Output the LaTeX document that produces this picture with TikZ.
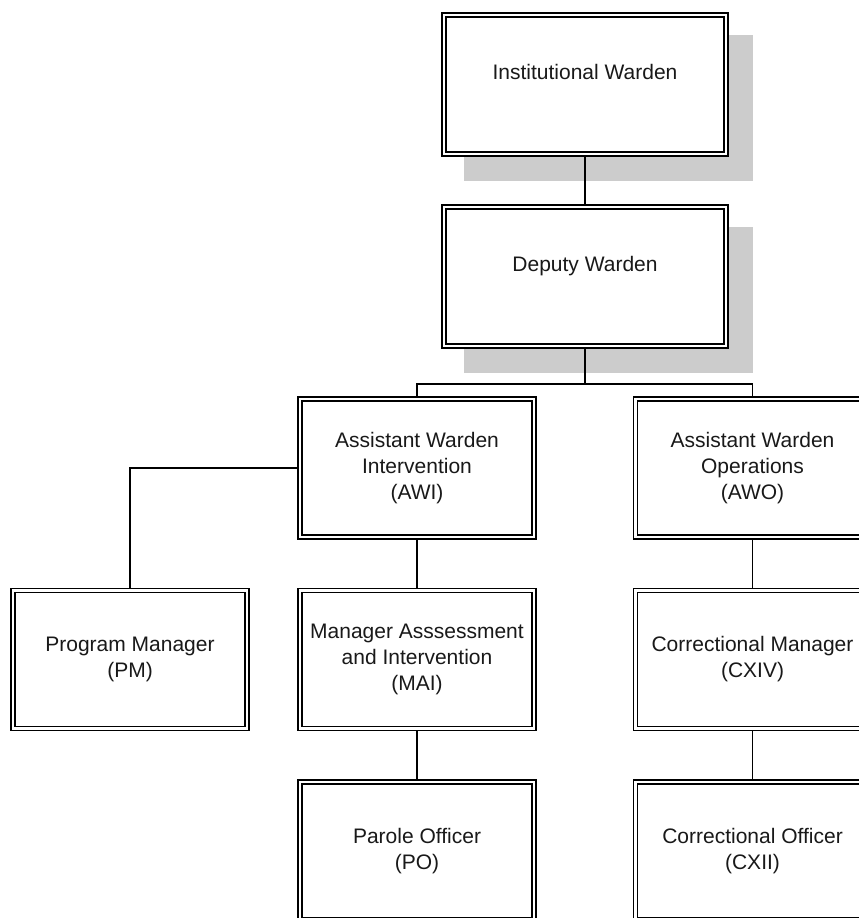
\documentclass[tikz,border=0pt]{standalone}
\usepackage{fontspec}
\setmainfont{Liberation Sans}
\usetikzlibrary{calc,backgrounds}
\begin{document}
\begin{tikzpicture}[x=1pt,y=1pt,
  box/.style={draw=black, line width=1.8pt, double=white, double distance=2.2pt, fill=white,
    minimum width=234pt, minimum height=138pt, align=center,
    font=\fontsize{21}{26}\selectfont, inner sep=0pt, text=black!90},
  wide/.style={minimum width=282pt, minimum height=139pt},
  link/.style={draw=black, line width=1.6pt},
  shade/.style={fill=black!20, draw=none}]
\useasboundingbox (0,0) rectangle (859,-918);
\clip (0,0) rectangle (859,-918);

\node[box, wide] (iw) at (585,-84.5) {Institutional Warden\\\mbox{}};
\node[box, wide] (dw) at (585,-276.5) {Deputy Warden\\\mbox{}};
\node[box] (awi) at (417,-468) {Assistant Warden\\Intervention\\(AWI)};
\node[box] (awo) at (752.5,-468) {Assistant Warden\\Operations\\(AWO)};
\node[box] (pm) at (130,-659.5) {Program Manager\\(PM)};
\node[box] (mai) at (417,-659.5) {Manager Asssessment\\and Intervention\\(MAI)};
\node[box] (po) at (417,-851) {Parole Officer\\(PO)};
\node[box] (cxiv) at (752.5,-659.5) {Correctional Manager\\(CXIV)};
\node[box] (cxii) at (752.5,-851) {Correctional Officer\\(CXII)};
\coordinate (bus) at (585,-384);

\begin{scope}[on background layer]
  \fill[shade] ($(iw.north west)+(20.5,-20.5)$) rectangle ($(iw.south east)+(26.5,-26.5)$);
  \fill[shade] ($(dw.north west)+(20.5,-20.5)$) rectangle ($(dw.south east)+(26.5,-26.5)$);
  \draw[link] (iw.south) -- (dw.north);
  \draw[link] (dw.south) -- (bus);
  \draw[link] (awi.north) |- (bus) -| (awo.north);
  \draw[link] (awi.west) -| (pm.north);
  \draw[link] (awi.south) -- (mai.north);
  \draw[link] (mai.south) -- (po.north);
  \draw[link] (awo.south) -- (cxiv.north);
  \draw[link] (cxiv.south) -- (cxii.north);
\end{scope}
\end{tikzpicture}
\end{document}
